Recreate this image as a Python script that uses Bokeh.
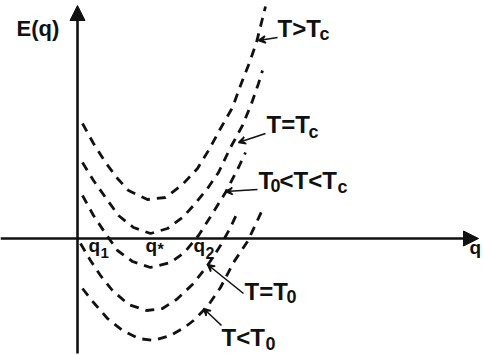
from bokeh.plotting import figure
from bokeh.models import Range1d, Label, Arrow, NormalHead, VeeHead
from bokeh.embed import file_html
from bokeh.resources import INLINE

# Free energy E(q) against order parameter q, one dashed curve per temperature
q_above_tc = [0.05, 0.16, 0.28, 0.40, 0.51, 0.70, 0.88, 1.05, 1.20, 1.31, 1.43, 1.55, 1.63, 1.72, 1.79, 1.85, 1.88]
e_above_tc = [1.15, 0.95, 0.76, 0.60, 0.48, 0.39, 0.41, 0.54, 0.70, 0.88, 1.10, 1.31, 1.53, 1.76, 1.96, 2.20, 2.32]

q_at_tc = [0.05, 0.16, 0.28, 0.41, 0.56, 0.73, 0.90, 1.05, 1.16, 1.30, 1.41, 1.53, 1.65, 1.74, 1.81, 1.85]
e_at_tc = [0.76, 0.58, 0.41, 0.23, 0.11, 0.05, 0.10, 0.21, 0.33, 0.50, 0.66, 0.91, 1.13, 1.35, 1.55, 1.68]

q_between = [0.05, 0.16, 0.28, 0.40, 0.55, 0.73, 0.93, 1.07, 1.21, 1.35, 1.48, 1.61, 1.68]
e_between = [0.43, 0.23, 0.05, -0.12, -0.23, -0.29, -0.24, -0.14, 0.03, 0.25, 0.46, 0.71, 0.86]

q_at_t0 = [0.03, 0.13, 0.23, 0.35, 0.51, 0.69, 0.85, 0.99, 1.16, 1.30, 1.43, 1.53, 1.59]
e_at_t0 = [-0.05, -0.22, -0.37, -0.52, -0.66, -0.72, -0.70, -0.61, -0.45, -0.27, -0.07, 0.11, 0.24]

q_below_t0 = [0.05, 0.16, 0.30, 0.45, 0.61, 0.76, 0.93, 1.07, 1.16, 1.30, 1.43, 1.56, 1.70, 1.79, 1.85]
e_below_t0 = [-0.50, -0.64, -0.80, -0.92, -1.00, -1.02, -0.97, -0.89, -0.82, -0.68, -0.49, -0.24, -0.03, 0.16, 0.29]

curves = [
    (q_above_tc, e_above_tc),
    (q_at_tc, e_at_tc),
    (q_between, e_between),
    (q_at_t0, e_at_t0),
    (q_below_t0, e_below_t0),
]

INK = "#111111"
FONT = "Liberation Sans"

p = figure(width=483, height=355, output_backend="svg", toolbar_location=None,
           x_range=Range1d(-0.77, 4.06), y_range=Range1d(-1.17, 2.38),
           x_axis_location=None, y_axis_location=None, min_border=0)
p.grid.visible = False
p.outline_line_color = None
p.background_fill_color = "white"
p.border_fill_color = "white"


def sx(px):
    return (px - 77) / 100


def sy(py):
    return (238 - py) / 100


# coordinate axes with filled arrowheads
p.add_layout(Arrow(end=NormalHead(size=15, fill_color=INK, line_color=INK),
                   x_start=0, y_start=sy(353), x_end=0, y_end=sy(5),
                   line_width=2.6, line_color=INK))
p.add_layout(Arrow(end=NormalHead(size=15, fill_color=INK, line_color=INK),
                   x_start=sx(0), y_start=0, x_end=sx(478), y_end=0,
                   line_width=2.6, line_color=INK))

for q, e in curves:
    p.line(q, e, line_width=2.8, line_dash="9 7", line_color=INK)


def label(text, left, mid, size):
    p.add_layout(Label(x=sx(left), y=sy(mid), text=text, text_font=FONT,
                       text_font_style="bold", text_font_size=f"{size}px",
                       text_color=INK, text_align="left", text_baseline="middle"))


def pointer(x0, y0, x1, y1):
    p.add_layout(Arrow(end=VeeHead(size=7, line_color=INK, line_width=1.6, fill_color=INK),
                       x_start=sx(x0), y_start=sy(y0), x_end=sx(x1), y_end=sy(y1),
                       line_width=1.6, line_color=INK))


label("E(q)", 16, 28, 22)
label("q", 469, 247, 19)

# points on the q axis
label("q", 88, 245, 19)
label("1", 100, 252, 15)
label("q", 145, 245, 19)
label("*", 157, 249, 16)
label("q", 193, 245, 19)
label("2", 205, 252, 16)

# temperature labels with pointers to their curves
label("T>T", 277, 28, 24)
label("c", 319, 33, 18)
pointer(277, 37, 258, 40)

label("T=T", 266, 124, 24)
label("c", 308, 131, 18)
pointer(265, 133, 238, 142)

label("T", 258, 180, 24)
label("0", 270, 185, 18)
label("<T<T", 279, 180, 24)
label("c", 337, 186, 18)
pointer(257, 189, 225, 191)

label("T=T", 244, 291, 24)
label("0", 286, 296, 18)
pointer(243, 293, 207, 264)

label("T<T", 221, 337, 24)
label("0", 265, 343, 18)
pointer(221, 325, 203, 308)

open("out.html", "w").write(file_html(p, INLINE))
